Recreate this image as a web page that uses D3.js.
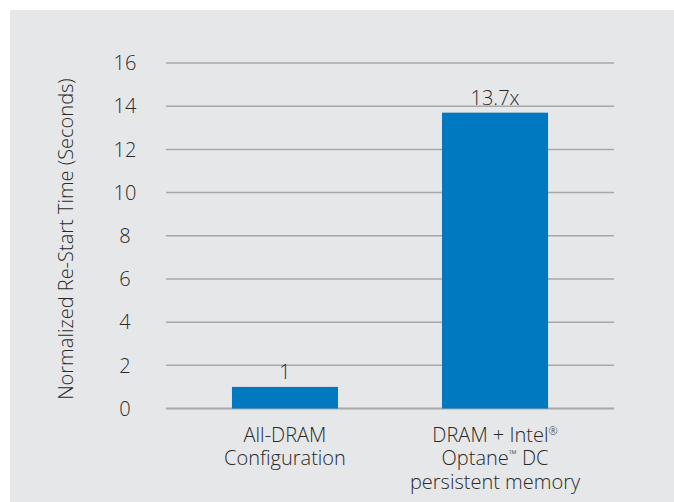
<!DOCTYPE html>
<html>
<head>
<meta charset="utf-8">
<script src="https://cdn.jsdelivr.net/npm/d3@7"></script>
<style>
  html, body { margin: 0; padding: 0; background: #ffffff; }
  svg { display: block; }
  text { font-family: "Open Sans", "Noto Sans", sans-serif; font-weight: 300; fill: #2a2a2a; }
</style>
</head>
<body>
<svg id="chart" width="674" height="502"></svg>
<script>
const categories = [
  ["All-DRAM", "Configuration"],
  ["DRAM + Intel®", "Optane™ DC", "persistent memory"]
];
const values = [1, 13.7];
const valueLabels = ["1", "13.7x"];
const yTicks = [0, 2, 4, 6, 8, 10, 12, 14, 16];
const yTitle = "Normalized Re-Start Time (Seconds)";

const svg = d3.select("#chart");
const W = 674, H = 502;

svg.append("rect")
  .attr("x", 10).attr("y", 10)
  .attr("width", W - 10).attr("height", H - 10)
  .attr("fill", "#e6e7e9");

const ids = categories.map((c, i) => i);
const x = d3.scaleBand()
  .domain(ids)
  .range([166, 614])
  .paddingInner(0.495)
  .paddingOuter(0.314);

const y = d3.scaleLinear().domain([0, 16]).range([408.5, 63]);

// gridlines
svg.append("g").selectAll("line")
  .data(yTicks).join("line")
  .attr("x1", 166).attr("x2", 614)
  .attr("y1", d => y(d)).attr("y2", d => y(d))
  .attr("stroke", "#a8a8aa")
  .attr("stroke-width", d => d === 0 ? 2 : 1.5);

// y tick labels
svg.append("g").selectAll("text")
  .data(yTicks).join("text")
  .attr("x", 125)
  .attr("y", d => y(d))
  .attr("dy", "0.36em")
  .attr("text-anchor", "middle")
  .attr("font-size", 20)
  .text(d => d);

// bars
svg.append("g").selectAll("rect")
  .data(values).join("rect")
  .attr("x", (d, i) => x(i))
  .attr("width", x.bandwidth())
  .attr("y", d => y(d))
  .attr("height", d => y(0) - y(d))
  .attr("fill", "#0079c1");

// value labels
svg.append("g").selectAll("text")
  .data(values).join("text")
  .attr("x", (d, i) => x(i) + x.bandwidth() / 2)
  .attr("y", d => y(d) - 8)
  .attr("text-anchor", "middle")
  .attr("font-size", 20)
  .text((d, i) => valueLabels[i]);

// category labels: one text per line, small superscript for ® and ™
const lines = [];
categories.forEach((c, i) => c.forEach((s, j) => lines.push({ i, j, s })));
const catText = svg.append("g").selectAll("text")
  .data(lines).join("text")
  .attr("x", d => x(d.i) + x.bandwidth() / 2)
  .attr("y", d => 442 + d.j * 23.3)
  .attr("text-anchor", "middle")
  .attr("font-size", 20);
catText.each(function(d) {
  const t = d3.select(this);
  let pending = 0;
  d.s.split(/([®™])/).filter(p => p.length).forEach(p => {
    if (p === "®" || p === "™") {
      t.append("tspan").attr("font-size", 11).attr("dy", pending - 7).text(p);
      pending = 7;
    } else {
      t.append("tspan").attr("dy", pending).text(p);
      pending = 0;
    }
  });
});

// y title
svg.append("text")
  .attr("transform", `translate(73, 239) rotate(-90)`)
  .attr("text-anchor", "middle")
  .attr("font-size", 20)
  .text(yTitle);
</script>
</body>
</html>
